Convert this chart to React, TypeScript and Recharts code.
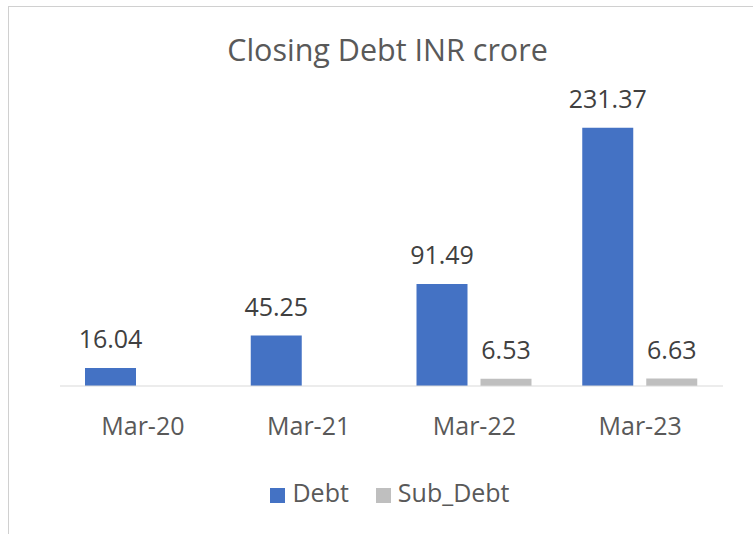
import { BarChart, Bar, XAxis, YAxis, Legend, LabelList } from "recharts";

const categories = ["Mar-20", "Mar-21", "Mar-22", "Mar-23"];
const debt = [16.04, 45.25, 91.49, 231.37];
const subDebt = [null, null, 6.53, 6.63];

const data = categories.map((c, i) => ({ name: c, debt: debt[i], subDebt: subDebt[i] }));

const fmt = (v: any) => (v == null ? "" : Number(v).toFixed(2));
const font = "'Open Sans', 'Noto Sans', sans-serif";

export default function App() {
  return (
    <div
      style={{
        position: "fixed", left: 8, top: 6, width: 744, height: 528,
        borderLeft: "1px solid #d0d0d0", borderTop: "1px solid #d0d0d0",
        background: "#fff", fontFamily: font,
      }}
    >
      <div style={{ position: "absolute", left: 0, width: 757, top: 21, textAlign: "center", fontSize: 30.5, color: "#595959" }}>
        Closing Debt INR crore
      </div>
      <BarChart width={744} height={528} data={data} margin={{ top: 100, right: 30, left: 51, bottom: 55 }} barSize={51} barGap={13}>
        <XAxis dataKey="name" axisLine={{ stroke: "#d9d9d9" }} tickLine={false} tickMargin={25} height={60}
          tick={{ fill: "#595959", fontSize: 25, fontFamily: font }} />
        <YAxis hide domain={[0, 250]} />
        <Legend iconType="square" iconSize={15} verticalAlign="bottom"
          wrapperStyle={{ fontSize: 25, color: "#595959", fontFamily: font, bottom: 26, paddingLeft: 12 }}
          formatter={(v) => <span style={{ color: "#595959", marginLeft: 3, marginRight: 17 }}>{v}</span>} />
        <Bar dataKey="debt" name="Debt" fill="#4472C4" isAnimationActive={false}>
          <LabelList dataKey="debt" position="top" offset={20} formatter={fmt} fill="#404040" fontSize={25} fontFamily={font} />
        </Bar>
        <Bar dataKey="subDebt" name="Sub_Debt" fill="#BFBFBF" isAnimationActive={false}>
          <LabelList dataKey="subDebt" position="top" offset={20} formatter={fmt} fill="#404040" fontSize={25} fontFamily={font} />
        </Bar>
      </BarChart>
    </div>
  );
}
